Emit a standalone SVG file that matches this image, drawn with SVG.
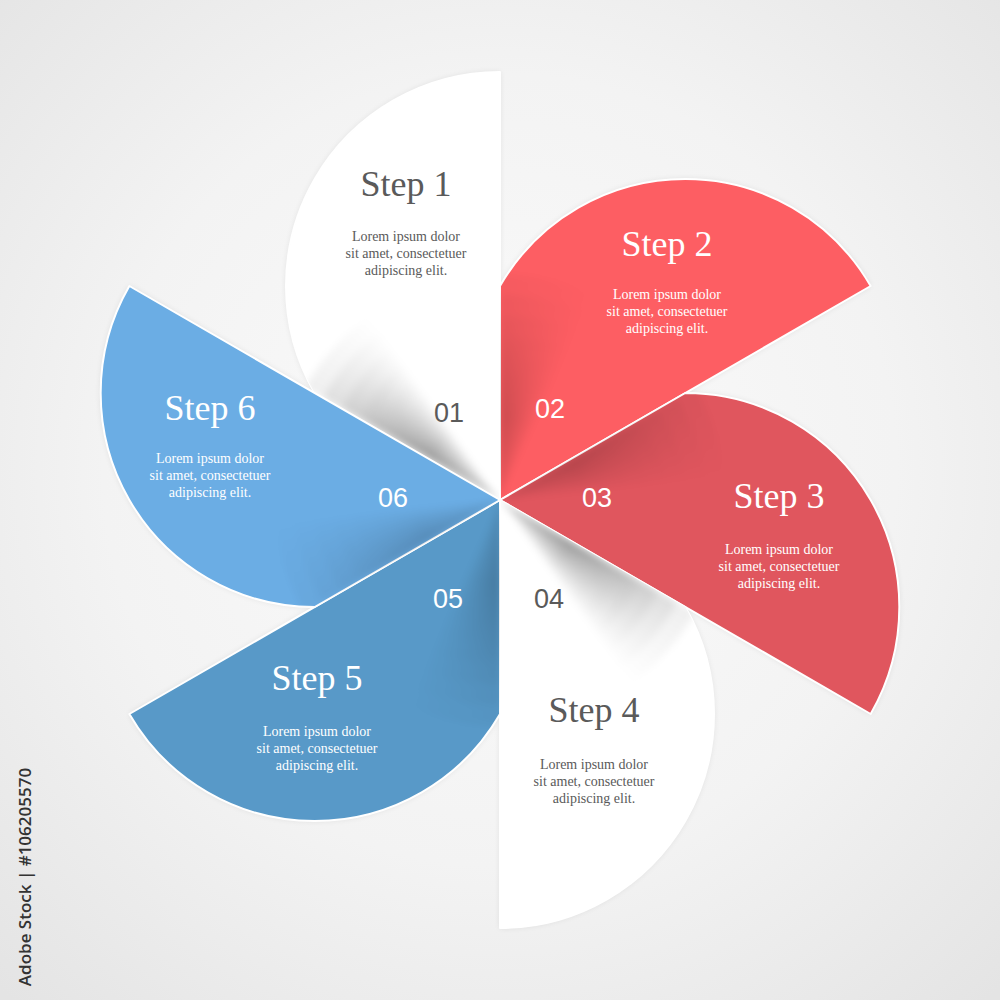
<svg xmlns="http://www.w3.org/2000/svg" xmlns:xlink="http://www.w3.org/1999/xlink" width="1000" height="1000" viewBox="0 0 1000 1000">
<style>
.title{font-family:"Liberation Serif","Times New Roman",serif;font-size:36px;text-anchor:middle}
.body{font-family:"Liberation Serif","Times New Roman",serif;font-size:14px;text-anchor:middle}
.num{font-family:"Liberation Sans",Arial,sans-serif;font-size:27px;text-anchor:middle}
.dark{fill:#5a5a5a}
.light{fill:#ffffff}
.petal{stroke:#ffffff;stroke-width:2;stroke-linejoin:round}
</style>
<defs>
<radialGradient id="bg" cx="500" cy="470" r="720" gradientUnits="userSpaceOnUse">
<stop offset="0" stop-color="#fbfbfb"/>
<stop offset="0.55" stop-color="#f3f3f3"/>
<stop offset="1" stop-color="#e4e4e4"/>
</radialGradient>
<radialGradient id="fade" cx="0" cy="0" r="235" gradientUnits="userSpaceOnUse">
<stop offset="0" stop-color="#000" stop-opacity="0.5"/>
<stop offset="0.35" stop-color="#000" stop-opacity="1"/>
<stop offset="1" stop-color="#000" stop-opacity="0"/>
</radialGradient>
<filter id="soft" x="-10%" y="-10%" width="120%" height="120%">
<feGaussianBlur stdDeviation="3"/>
</filter>
<filter id="smooth" x="-30%" y="-30%" width="160%" height="160%">
<feGaussianBlur stdDeviation="3.5"/>
</filter>
<g id="fan" fill="url(#fade)" fill-opacity="0.03">
<path d="M0 0 L260 0 L259.91 6.81 Z"/>
<path d="M0 0 L260 0 L259.64 13.61 Z"/>
<path d="M0 0 L260 0 L259.20 20.40 Z"/>
<path d="M0 0 L260 0 L258.58 27.18 Z"/>
<path d="M0 0 L260 0 L257.77 33.94 Z"/>
<path d="M0 0 L260 0 L256.80 40.67 Z"/>
<path d="M0 0 L260 0 L255.65 47.38 Z"/>
<path d="M0 0 L260 0 L254.32 54.06 Z"/>
<path d="M0 0 L260 0 L252.82 60.70 Z"/>
<path d="M0 0 L260 0 L251.14 67.29 Z"/>
<path d="M0 0 L260 0 L249.29 73.85 Z"/>
<path d="M0 0 L260 0 L247.28 80.35 Z"/>
<path d="M0 0 L260 0 L245.09 86.79 Z"/>
<path d="M0 0 L260 0 L242.73 93.18 Z"/>
<path d="M0 0 L260 0 L240.21 99.50 Z"/>
<path d="M0 0 L260 0 L237.52 105.75 Z"/>
</g>
<path id="p1" d="M500 500 L500 72 A214 214 0 0 0 314.67 393 Z"/>
<path id="p2" d="M500 500 L870.66 286 A214 214 0 0 0 500 286 Z"/>
<path id="p3" d="M500 500 L870.66 714 A214 214 0 0 0 685.33 393 Z"/>
<path id="p4" d="M500 500 L500 928 A214 214 0 0 0 685.33 607 Z"/>
<path id="p5" d="M500 500 L129.34 714 A214 214 0 0 0 500 714 Z"/>
<path id="p6" d="M500 500 L129.34 286 A214 214 0 0 0 314.67 607 Z"/>
<clipPath id="c1"><use xlink:href="#p1"/></clipPath>
<clipPath id="c2"><use xlink:href="#p2"/></clipPath>
<clipPath id="c3"><use xlink:href="#p3"/></clipPath>
<clipPath id="c4"><use xlink:href="#p4"/></clipPath>
<clipPath id="c5"><use xlink:href="#p5"/></clipPath>
<clipPath id="c6"><use xlink:href="#p6"/></clipPath>
</defs>

<rect width="1000" height="1000" fill="url(#bg)"/>

<g id="backdrop" fill="#000" opacity="0.09" filter="url(#soft)">
<use xlink:href="#p1"/><use xlink:href="#p2"/><use xlink:href="#p3"/>
<use xlink:href="#p4"/><use xlink:href="#p5"/><use xlink:href="#p6"/>
</g>

<g id="step1">
<use xlink:href="#p1" class="petal" fill="#ffffff"/>
<g clip-path="url(#c1)"><use xlink:href="#fan" filter="url(#smooth)" transform="translate(500 500) rotate(-150)"/></g>
<text class="title dark" x="406" y="196">Step 1</text>
<text class="body dark" x="406" y="241">Lorem ipsum dolor</text>
<text class="body dark" x="406" y="258">sit amet, consectetuer</text>
<text class="body dark" x="406" y="275">adipiscing elit.</text>
<text class="num dark" x="449" y="422">01</text>
</g>

<g id="step2">
<use xlink:href="#p2" class="petal" fill="#fd5e63"/>
<g clip-path="url(#c2)" opacity="0.5"><use xlink:href="#fan" filter="url(#smooth)" transform="translate(500 500) rotate(-90)"/></g>
<text class="title light" x="667" y="256">Step 2</text>
<text class="body light" x="667" y="299">Lorem ipsum dolor</text>
<text class="body light" x="667" y="316">sit amet, consectetuer</text>
<text class="body light" x="667" y="333">adipiscing elit.</text>
<text class="num light" x="550" y="418">02</text>
</g>

<g id="step3">
<use xlink:href="#p3" class="petal" fill="#e0565e"/>
<g clip-path="url(#c3)" opacity="0.5"><use xlink:href="#fan" filter="url(#smooth)" transform="translate(500 500) rotate(-30)"/></g>
<text class="title light" x="779" y="508">Step 3</text>
<text class="body light" x="779" y="554">Lorem ipsum dolor</text>
<text class="body light" x="779" y="571">sit amet, consectetuer</text>
<text class="body light" x="779" y="588">adipiscing elit.</text>
<text class="num light" x="597" y="507">03</text>
</g>

<g id="step4">
<use xlink:href="#p4" class="petal" fill="#ffffff"/>
<g clip-path="url(#c4)"><use xlink:href="#fan" filter="url(#smooth)" transform="translate(500 500) rotate(30)"/></g>
<text class="title dark" x="594" y="722">Step 4</text>
<text class="body dark" x="594" y="769">Lorem ipsum dolor</text>
<text class="body dark" x="594" y="786">sit amet, consectetuer</text>
<text class="body dark" x="594" y="803">adipiscing elit.</text>
<text class="num dark" x="549" y="608">04</text>
</g>

<g id="step5">
<use xlink:href="#p5" class="petal" fill="#5899c8"/>
<g clip-path="url(#c5)" opacity="0.5"><use xlink:href="#fan" filter="url(#smooth)" transform="translate(500 500) rotate(90)"/></g>
<text class="title light" x="317" y="690">Step 5</text>
<text class="body light" x="317" y="736">Lorem ipsum dolor</text>
<text class="body light" x="317" y="753">sit amet, consectetuer</text>
<text class="body light" x="317" y="770">adipiscing elit.</text>
<text class="num light" x="448" y="608">05</text>
</g>

<g id="step6">
<use xlink:href="#p6" class="petal" fill="#6badE4"/>
<g clip-path="url(#c6)" opacity="0.5"><use xlink:href="#fan" filter="url(#smooth)" transform="translate(500 500) rotate(150)"/></g>
<text class="title light" x="210" y="420">Step 6</text>
<text class="body light" x="210" y="463">Lorem ipsum dolor</text>
<text class="body light" x="210" y="480">sit amet, consectetuer</text>
<text class="body light" x="210" y="497">adipiscing elit.</text>
<text class="num light" x="393" y="507">06</text>
</g>

<g id="connectors"/>

<text transform="translate(31 877) rotate(-90)" font-family="'Open Sans','Liberation Sans',sans-serif" font-size="17" font-weight="600" fill="#333333" text-anchor="middle">Adobe Stock | #106205570</text>
</svg>
